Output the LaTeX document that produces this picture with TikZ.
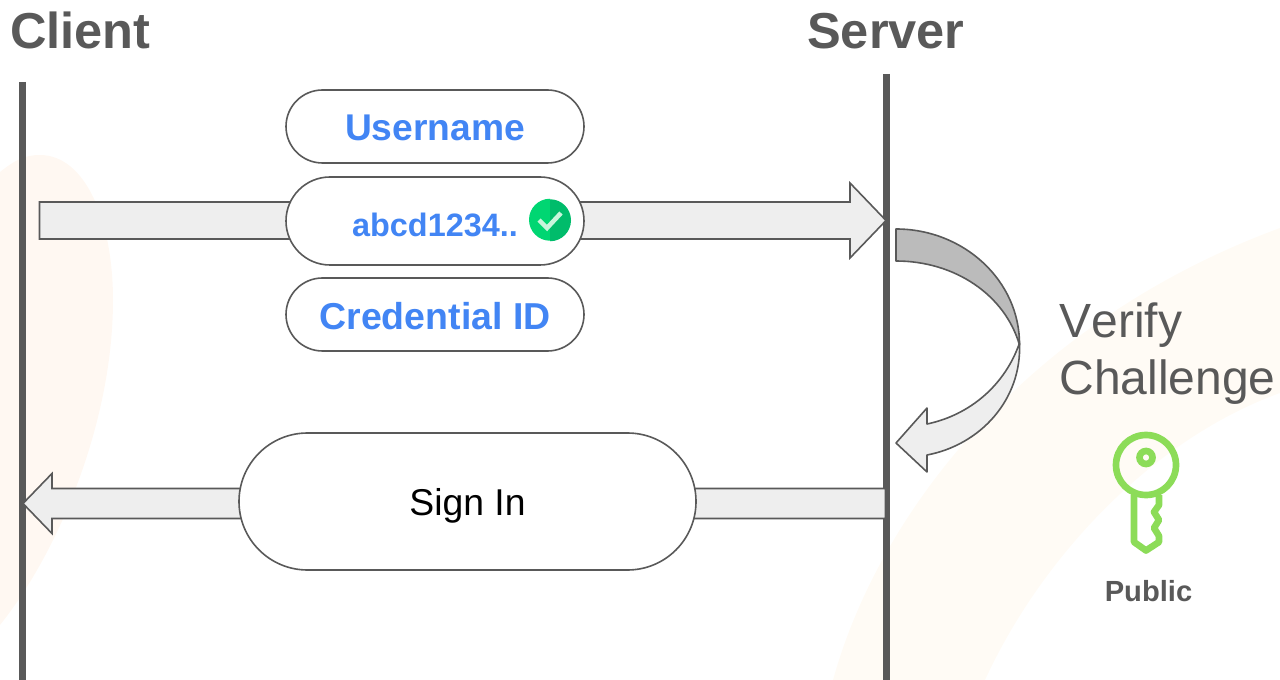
\documentclass[tikz,border=0pt]{standalone}
\usepackage{fontspec}
\setmainfont[Kerning=Off]{Liberation Sans}
\usetikzlibrary{shapes.misc}
\definecolor{ink}{HTML}{595959}
\definecolor{blueink}{HTML}{4285F4}
\definecolor{lightfill}{HTML}{EEEEEE}
\definecolor{darkfill}{HTML}{BBBBBB}
\definecolor{keygreen}{HTML}{8CDC58}
\definecolor{blobleft}{HTML}{FFF8F2}
\definecolor{blobright}{HTML}{FFFBF5}
\definecolor{badgeL}{HTML}{00D672}
\definecolor{badgeR}{HTML}{00BC6B}
\definecolor{badgeC}{HTML}{C8F5DC}
\tikzset{
  lifeline/.style={draw=ink,line width=5.25pt},
  blockarrow/.style={draw=ink,fill=lightfill,line width=1.2pt,line join=miter},
  pill/.style={rounded rectangle,draw=ink,fill=white,line width=1.2pt,inner sep=0pt},
  heading/.style={anchor=base west,inner sep=0pt,text=ink,font=\fontsize{37.9}{44}\selectfont\bfseries},
  keyline/.style={draw=keygreen,line width=5pt,line join=round},
}
\begin{document}
\begin{tikzpicture}[x=0.75pt,y=-0.75pt]
\useasboundingbox (0,0) rectangle (1280,680);
% soft background shapes
\fill[blobleft] (0,172) .. controls (15,160) and (25,155) .. (40,155)
  .. controls (85,155) and (113,220) .. (113,300)
  .. controls (113,420) and (60,550) .. (0,625) -- cycle;
\fill[blobright] (833,680) .. controls (880,510) and (1030,320) .. (1280,228)
  -- (1280,393) .. controls (1150,440) and (1040,560) .. (985,680) -- cycle;
% lifelines
\coordinate (clientTop) at (22.5,82);
\coordinate (clientBot) at (22.5,680);
\coordinate (serverTop) at (886,74);
\coordinate (serverBot) at (886,680);
\draw[lifeline] (clientTop) -- (clientBot);
\draw[lifeline] (serverTop) -- (serverBot);
\node[heading] (client) at (10,49) {Client};
\node[heading] (server) at (807,49) {Server};
% request arrow
\coordinate (reqTail) at (39.5,220.5);
\coordinate (reqTip) at (886,220.5);
\draw[blockarrow] (reqTail) ++(0,-18.5) -- ++(810.5,0) -- ++(0,-19) -- (reqTip)
  -- (850,258) -- (850,239) -- (39.5,239) -- cycle;
% response arrow
\coordinate (resTail) at (885.5,503.5);
\coordinate (resTip) at (23,503.5);
\draw[blockarrow] (resTail) ++(0,-15) -- (52,488.5) -- (52,473.5) -- (resTip)
  -- (52,533.5) -- (52,518.5) -- (885.5,518.5) -- cycle;
% pills
\node[pill,minimum width=223.5pt,minimum height=54.75pt,text height=21.75pt,text depth=0pt,text=blueink,font=\fontsize{27.9}{34}\selectfont\bfseries] (username) at (435,126.5) {Username};
\node[pill,minimum width=223.5pt,minimum height=66pt,text height=24pt,text depth=0pt,text=blueink,font=\fontsize{24.3}{29}\selectfont\bfseries] (sig) at (435,221) {abcd1234..};
\node[pill,minimum width=223.5pt,minimum height=54.75pt,text height=23.25pt,text depth=0pt,text=blueink,font=\fontsize{28.1}{34}\selectfont\bfseries] (cred) at (435,314.5) {Credential ID};
\node[pill,minimum width=342.75pt,minimum height=102.75pt,text height=21pt,text depth=0pt,text=black,font=\fontsize{28}{34}\selectfont] (signin) at (467.5,501.5) {Sign In};
% check badge
\node[circle,minimum size=31.5pt,inner sep=0pt] (badge) at (550,220) {};
\fill[badgeL] (badge.north) arc (90:270:15.75pt) -- cycle;
\fill[badgeR] (badge.south) arc (-90:90:15.75pt) -- cycle;
\draw[badgeC,line width=3.4pt,line join=miter] (539,220) -- (547,228) -- (561,213);
% self-loop arrow
\coordinate (loopTip) at (896,443);
\draw[draw=ink,fill=darkfill,line width=1.2pt,line join=round] (896,229)
  .. controls (964,229) and (1020,281) .. (1019.5,345)
  .. controls (1005,295) and (955,261) .. (896,261) -- cycle;
\draw[blockarrow,line join=round] (1019.5,343)
  .. controls (1022,400) and (980,445) .. (927,455)
  -- (927,472) -- (loopTip) -- (927,408) -- (927,424)
  .. controls (970,415) and (1005,385) .. (1019.5,343) -- cycle;
% labels
\node[anchor=center,inner sep=0pt,align=left,text=ink,font=\fontsize{36}{42.75}\selectfont] (verify) at (1167.5,354) {Verify\\Challenge};
% key icon
\coordinate (keyHead) at (1146,465);
\coordinate (keyEye) at (1146,457.5);
\draw[keyline] (keyHead) circle (30);
\draw[keygreen,line width=5pt] (keyEye) circle (6.5);
\draw[keyline] (1159,495) -- (1159,505) -- (1154,512) -- (1159,520) -- (1154,528) -- (1159,536)
  -- (1159,542) -- (1146,550.5) -- (1134,542) -- (1134,495);
\node[anchor=base,inner sep=0pt,text=ink,font=\fontsize{21.85}{26}\selectfont\bfseries] (public) at (1148.5,601) {Public};
\end{tikzpicture}
\end{document}
